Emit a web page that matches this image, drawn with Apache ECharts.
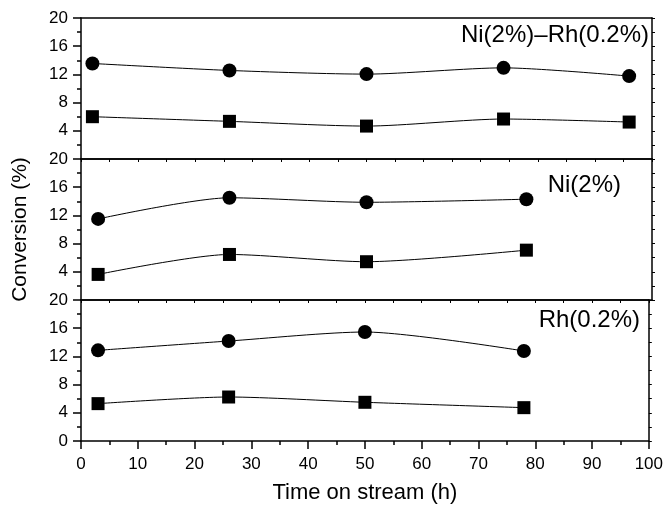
<!DOCTYPE html>
<html>
<head>
<meta charset="utf-8">
<script src="https://cdn.jsdelivr.net/npm/echarts@6/dist/echarts.min.js"></script>
<style>
  html, body { margin: 0; padding: 0; background: #fff; }
  #main { width: 666px; height: 505px; }
</style>
</head>
<body>
<div id="main"></div>
<script>
// time on stream (h) and conversion (%) per catalyst
var timeNiRh = [2, 26, 50, 74, 96];
var niRhCircle = [13.55, 12.56, 12.04, 12.93, 11.76];
var niRhSquare = [6.0, 5.34, 4.67, 5.67, 5.24];

var timeNi = [3, 26, 50, 78];
var niCircle = [11.5, 14.5, 13.86, 14.3];
var niSquare = [3.63, 6.46, 5.43, 7.07];

var timeRh = [3, 26, 50, 78];
var rhCircle = [12.86, 14.18, 15.46, 12.77];
var rhSquare = [5.3, 6.24, 5.49, 4.73];

var panelLabels = ['Ni(2%)\u2013Rh(0.2%)', 'Ni(2%)', 'Rh(0.2%)'];

var FONT = '"Liberation Sans", Arial, Helvetica, sans-serif';

function pairs(xs, ys) {
    var out = [];
    for (var i = 0; i < xs.length; i++) out.push([xs[i], ys[i]]);
    return out;
}

var chart = echarts.init(document.getElementById('main'), null, {renderer: 'canvas'});

var grids = [
    {left: 81, right: 14, top: 18, height: 141},
    {left: 81, right: 14, top: 159, height: 141},
    {left: 81, right: 14, top: 300, height: 141}
];

var axisLine = {show: true, onZero: false, lineStyle: {color: '#000', width: 1.5}};

var xAxes = [];
var yAxes = [];
for (var g = 0; g < 3; g++) {
    var last = g === 2;
    // bottom axis
    xAxes.push({
        gridIndex: g, type: 'value', min: 0, max: 100, interval: 10,
        position: 'bottom',
        axisLine: axisLine,
        axisTick: {show: last, length: 8, lineStyle: {color: '#000', width: 1.5}},
        minorTick: {show: last, splitNumber: 2, length: 4, lineStyle: {color: '#000', width: 1.5}},
        axisLabel: {show: last, color: '#000', fontSize: 17, fontFamily: FONT, margin: 15},
        splitLine: {show: false},
        name: last ? 'Time on stream (h)' : '',
        nameLocation: 'middle', nameGap: 41,
        nameTextStyle: {color: '#000', fontSize: 22, fontFamily: FONT}
    });
    // left axis
    yAxes.push({
        gridIndex: g, type: 'value', min: 0, max: 20, interval: 4,
        position: 'left',
        axisLine: axisLine,
        axisTick: {show: true, length: 8, lineStyle: {color: '#000', width: 1.5}},
        minorTick: {show: true, splitNumber: 2, length: 4, lineStyle: {color: '#000', width: 1.5}},
        axisLabel: {
            color: '#000', fontSize: 17, fontFamily: FONT, margin: 13,
            formatter: (function (isLast) {
                return function (v) { return (v === 0 && !isLast) ? '' : String(v); };
            })(last)
        },
        splitLine: {show: false},
        name: g === 1 ? 'Conversion (%)' : '',
        nameLocation: 'middle', nameGap: 50,
        nameTextStyle: {color: '#000', fontSize: 21, fontFamily: FONT}
    });
}
for (var g2 = 0; g2 < 3; g2++) {
    // top axis (frame), small inward ticks on lower panels
    xAxes.push({
        gridIndex: g2, type: 'value', min: 0, max: 100, interval: 5,
        position: 'top',
        axisLine: axisLine,
        axisTick: {show: g2 > 0, inside: true, length: 3, lineStyle: {color: '#000', width: 1}},
        axisLabel: {show: false},
        splitLine: {show: false}
    });
    // right axis (frame)
    yAxes.push({
        gridIndex: g2, type: 'value', min: 0, max: 20, interval: 2,
        position: 'right',
        axisLine: axisLine,
        axisTick: {show: true, length: 3, lineStyle: {color: '#000', width: 1}},
        axisLabel: {show: false},
        splitLine: {show: false}
    });
}

function makeSeries(idx, xs, ys, symbol, size) {
    return {
        type: 'line', xAxisIndex: idx, yAxisIndex: idx,
        data: pairs(xs, ys),
        smooth: 0.25,
        symbol: symbol, symbolSize: size,
        showAllSymbol: true,
        lineStyle: {color: '#000', width: 1},
        itemStyle: {color: '#000', borderWidth: 0},
        emphasis: {disabled: true},
        z: 3
    };
}

var labelStyle = {color: '#000', fontSize: 24, fontWeight: 'normal', fontFamily: FONT};

var option = {
    animation: false,
    backgroundColor: '#fff',
    title: [
        {text: panelLabels[0], right: 17, top: 23, padding: 0, textStyle: labelStyle},
        {text: panelLabels[1], right: 45, top: 173, padding: 0, textStyle: labelStyle},
        {text: panelLabels[2], right: 26, top: 308, padding: 0, textStyle: labelStyle}
    ],
    grid: grids,
    xAxis: xAxes,
    yAxis: yAxes,
    series: [
        makeSeries(0, timeNiRh, niRhCircle, 'circle', 14),
        makeSeries(0, timeNiRh, niRhSquare, 'rect', 13),
        makeSeries(1, timeNi, niCircle, 'circle', 14),
        makeSeries(1, timeNi, niSquare, 'rect', 13),
        makeSeries(2, timeRh, rhCircle, 'circle', 14),
        makeSeries(2, timeRh, rhSquare, 'rect', 13)
    ]
};
chart.setOption(option);
</script>
</body>
</html>
